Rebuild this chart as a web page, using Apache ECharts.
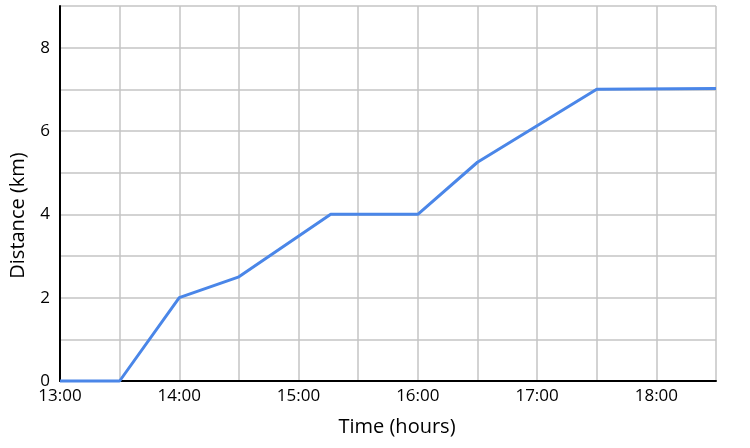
<!DOCTYPE html>
<html>
<head>
<meta charset="utf-8">
<script src="https://cdn.jsdelivr.net/npm/echarts@6/dist/echarts.min.js"></script>
<style>html,body{margin:0;padding:0;background:#fff}#c{width:750px;height:448px}</style>
</head>
<body>
<div id="c"></div>
<script>
// Time in hours (decimal), distance in km
var timeHours = [13, 13.5, 14, 14.5, 15.27, 16, 16.5, 17.5, 18.5];
var distanceKm = [0, 0, 2, 2.5, 4, 4, 5.25, 7, 7.02];
var xTickLabels = ['13:00', '14:00', '15:00', '16:00', '17:00', '18:00'];
var yTickLabels = ['0', '2', '4', '6', '8'];

var chart = echarts.init(document.getElementById('c'), null, {renderer: 'canvas'});
var font = '"Open Sans", sans-serif';
chart.setOption({
  animation: false,
  grid: {left: 58, right: 34, top: 6, bottom: 67, containLabel: false},
  xAxis: {
    type: 'value', min: 13, max: 18.5, interval: 0.5,
    name: 'Time (hours)', nameLocation: 'middle', nameGap: 36,
    nameTextStyle: {color: '#000', fontSize: 20, fontFamily: font, padding: [0, 0, 0, 18]},
    axisLine: {show: true, onZero: false, lineStyle: {color: '#000', width: 2}},
    axisTick: {show: false},
    axisLabel: {
      color: '#000', fontSize: 17, fontFamily: font, margin: 7,
      formatter: function (v) {
        var i = xTickLabels.indexOf(Math.round(v) + ':00');
        return (Math.abs(v - Math.round(v)) < 1e-6 && i >= 0) ? xTickLabels[i] : '';
      }
    },
    splitLine: {show: true, lineStyle: {color: '#c4c4c4', width: 1.5}}
  },
  yAxis: {
    type: 'value', min: 0, max: 9, interval: 1,
    name: 'Distance (km)', nameLocation: 'middle', nameGap: 32,
    nameTextStyle: {color: '#000', fontSize: 20, fontFamily: font, padding: [0, 44, 0, 0]},
    axisLine: {show: true, lineStyle: {color: '#000', width: 2}},
    axisTick: {show: false},
    axisLabel: {
      color: '#000', fontSize: 17, fontFamily: font, margin: 10,
      formatter: function (v) {
        var s = String(v);
        return yTickLabels.indexOf(s) >= 0 ? s : '';
      }
    },
    splitLine: {show: true, lineStyle: {color: '#c4c4c4', width: 1.5}}
  },
  series: [{
    type: 'line',
    data: timeHours.map(function (t, i) { return [t, distanceKm[i]]; }),
    showSymbol: false,
    lineStyle: {color: '#4a86e8', width: 3},
    clip: false
  }]
});
</script>
</body>
</html>
